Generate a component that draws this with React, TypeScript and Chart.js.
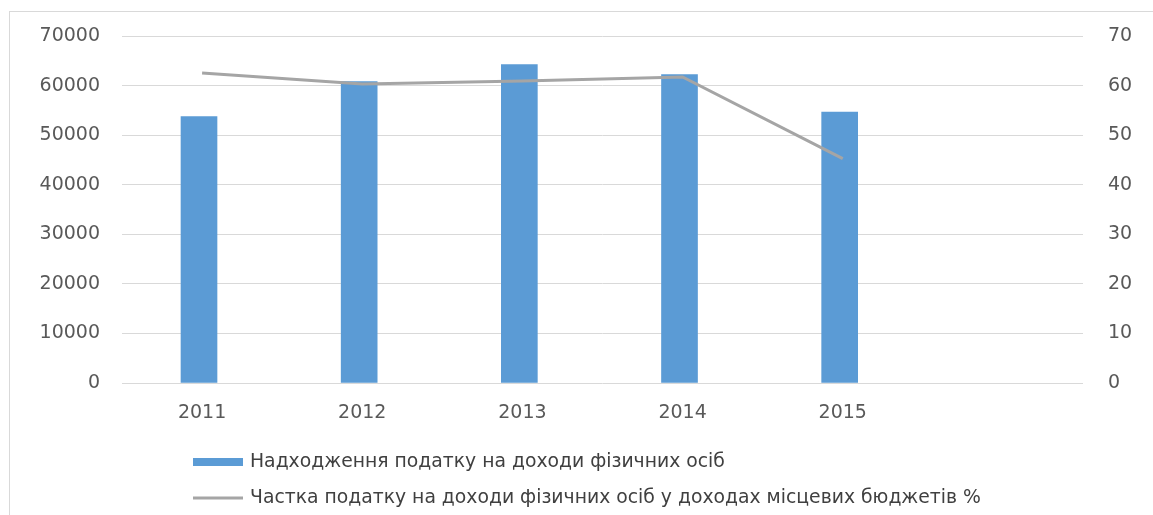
import React, { useEffect, useRef } from "react";
import { Chart, registerables } from "chart.js";

Chart.register(...registerables);

const categories = ["2011", "2012", "2013", "2014", "2015"];
const axisLabels = [...categories, ""];
const incomeTax = [53800, 60900, 64300, 62300, 54700];
const taxShare = [62.6, 60.4, 61.0, 61.8, 45.3];
const leftMax = 70000;
const leftStep = 10000;
const rightMax = 70;
const rightStep = 10;
const seriesNames = [
  "Надходження податку на доходи фізичних осіб",
  "Частка податку на доходи фізичних осіб у доходах місцевих бюджетів %",
];

const BAR_COLOR = "#5B9BD5";
const LINE_COLOR = "#A5A5A5";
const TEXT_COLOR = "#595959";
const FONT = "DejaVu Sans";

const legendPlugin = {
  id: "customLegend",
  afterDraw(chart: any) {
    const ctx = chart.ctx;
    const area = chart.chartArea;
    const x0 = 193;
    const rows = [area.bottom + 79, area.bottom + 115];
    ctx.save();
    ctx.fillStyle = BAR_COLOR;
    ctx.fillRect(x0, rows[0] - 4, 50, 8);
    ctx.strokeStyle = LINE_COLOR;
    ctx.lineWidth = 3;
    ctx.beginPath();
    ctx.moveTo(x0, rows[1]);
    ctx.lineTo(x0 + 50, rows[1]);
    ctx.stroke();
    ctx.fillStyle = "#404040";
    ctx.font = `18.8px "${FONT}"`;
    ctx.textBaseline = "middle";
    ctx.textAlign = "left";
    ctx.fillText(seriesNames[0], x0 + 57, rows[0]);
    ctx.fillText(seriesNames[1], x0 + 57, rows[1]);
    ctx.restore();
  },
};

export default function App() {
  const canvasRef = useRef<HTMLCanvasElement | null>(null);

  useEffect(() => {
    if (!canvasRef.current) return;
    const chart = new Chart(canvasRef.current, {
      type: "bar",
      data: {
        labels: axisLabels,
        datasets: [
          {
            type: "line",
            label: seriesNames[1],
            data: taxShare,
            xAxisID: "x",
            yAxisID: "y1",
            borderColor: LINE_COLOR,
            borderWidth: 3,
            pointRadius: 0,
            tension: 0,
            fill: false,
            order: 1,
          } as any,
          {
            type: "bar",
            label: seriesNames[0],
            data: incomeTax.map((v, i) => ({ x: i, y: v })),
            xAxisID: "xb",
            yAxisID: "y",
            backgroundColor: BAR_COLOR,
            barThickness: 36,
            order: 2,
          } as any,
        ],
      },
      options: {
        animation: false,
        responsive: true,
        maintainAspectRatio: false,
        layout: { padding: { top: 33, left: 0, right: 0, bottom: 0 } },
        plugins: {
          legend: { display: false },
          tooltip: { enabled: false },
        },
        scales: {
          x: {
            type: "category",
            offset: true,
            grid: { display: false, drawTicks: false },
            border: { display: false },
            ticks: {
              color: TEXT_COLOR,
              font: { family: FONT, size: 19 },
              padding: 19,
              maxRotation: 0,
              autoSkip: false,
            },
            afterFit(scale: any) {
              scale.height = 132;
            },
          },
          xb: {
            type: "linear",
            display: false,
            offset: false,
            min: -0.3684,
            max: 5.6316,
            grid: { display: false },
          },
          y: {
            type: "linear",
            position: "left",
            min: 0,
            max: leftMax,
            grid: { color: "#D9D9D9", lineWidth: 1, drawTicks: false },
            border: { display: false },
            ticks: {
              stepSize: leftStep,
              color: TEXT_COLOR,
              font: { family: FONT, size: 19 },
              padding: 22,
              callback: (v: any) => String(v),
            },
            afterFit(scale: any) {
              scale.width = 122;
            },
          },
          y1: {
            type: "linear",
            position: "right",
            min: 0,
            max: rightMax,
            grid: { display: false, drawTicks: false },
            border: { display: false },
            ticks: {
              stepSize: rightStep,
              color: TEXT_COLOR,
              font: { family: FONT, size: 19 },
              padding: 25,
              callback: (v: any) => String(v),
            },
            afterFit(scale: any) {
              scale.width = 70;
            },
          },
        },
      },
      plugins: [legendPlugin],
    });
    return () => chart.destroy();
  }, []);

  return (
    <div
      style={{
        position: "fixed",
        left: 0,
        top: 0,
        width: 1153,
        height: 515,
        background: "#FFFFFF",
        overflow: "hidden",
      }}
    >
      <div
        style={{
          position: "absolute",
          left: 9,
          top: 11,
          width: 1144,
          height: 504,
          borderLeft: "1px solid #D9D9D9",
          borderTop: "1px solid #D9D9D9",
          boxSizing: "border-box",
        }}
      />
      <div style={{ position: "absolute", left: 0, top: 0, width: 1153, height: 515 }}>
        <canvas ref={canvasRef} />
      </div>
    </div>
  );
}
